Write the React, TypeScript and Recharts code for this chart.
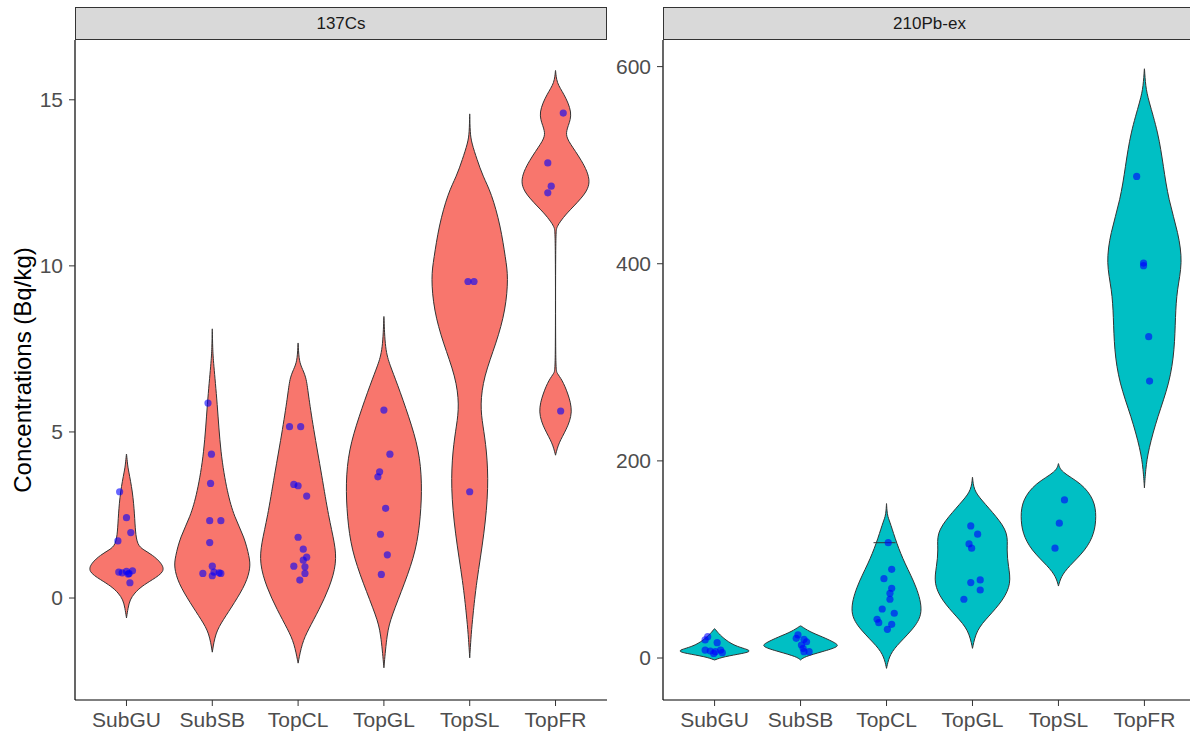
import React from 'react';
import { ScatterChart, Scatter, XAxis, YAxis } from 'recharts';

const sites = ['SubGU', 'SubSB', 'TopCL', 'TopGL', 'TopSL', 'TopFR'];

// violin outlines: [concentration, relative density]
const csProfiles = [
  [[-0.6, 0], [-0.3, 0.04], [-0.05, 0.09], [0.15, 0.21], [0.35, 0.39], [0.55, 0.67], [0.8, 1.0], [1.05, 0.91], [1.3, 0.67], [1.45, 0.44], [1.6, 0.28], [2.0, 0.23], [2.5, 0.21], [3.2, 0.16], [3.85, 0.05], [4.0, 0.03], [4.35, 0]],
  [[-1.63, 0], [-1.05, 0.08], [-0.66, 0.28], [-0.15, 0.57], [0.45, 0.88], [0.93, 0.99], [1.23, 0.96], [1.84, 0.83], [2.44, 0.57], [3.16, 0.39], [4.37, 0.21], [5.87, 0.13], [7.1, 0.03], [7.5, 0.01], [8.13, 0]],
  [[-1.96, 0], [-1.36, 0.1], [-0.96, 0.26], [-0.36, 0.54], [0.33, 0.82], [1.05, 1.0], [1.65, 0.95], [2.44, 0.79], [3.65, 0.62], [5.15, 0.39], [6.17, 0.26], [6.66, 0.21], [6.96, 0.08], [7.2, 0.02], [7.7, 0]],
  [[-2.1, 0], [-1.05, 0.08], [-0.57, 0.19], [0.45, 0.54], [1.45, 0.84], [2.44, 0.95], [3.46, 0.99], [4.46, 0.91], [5.45, 0.65], [6.47, 0.34], [7.0, 0.16], [7.47, 0.03], [8.52, 0]],
  [[-1.8, 0], [-1.05, 0.04], [-0.57, 0.08], [0.45, 0.17], [1.95, 0.38], [3.34, 0.49], [4.46, 0.44], [5.2, 0.34], [5.8, 0.27], [6.66, 0.36], [7.68, 0.69], [8.67, 0.93], [9.67, 1.0], [10.2, 0.93], [11.2, 0.8], [12.2, 0.56], [12.7, 0.34], [13.2, 0.19], [13.7, 0.05], [14.0, 0.01], [14.6, 0]],
  [[4.3, 0], [4.67, 0.08], [5.06, 0.28], [5.6, 0.46], [6.17, 0.32], [6.57, 0.17], [6.78, 0.03], [6.9, 0], [11.0, 0], [11.15, 0.03], [11.3, 0.1], [11.6, 0.3], [12.0, 0.65], [12.5, 0.97], [13.2, 0.67], [13.7, 0.36], [13.95, 0.26], [14.2, 0.32], [14.6, 0.45], [15.2, 0.21], [15.5, 0.03], [15.9, 0]],
];

const pbProfiles = [
  [[-2, 0], [1.3, 0.23], [4.7, 0.75], [7.4, 1.0], [11.5, 0.56], [18.3, 0.28], [25, 0.1], [30, 0]],
  [[-2, 0], [1.3, 0.1], [6.4, 0.56], [11.5, 1.0], [14.9, 0.93], [21.6, 0.56], [26.7, 0.23], [32.8, 0]],
  [[-10.5, 0], [1.3, 0.065], [11.5, 0.23], [28.4, 0.67], [45.4, 0.97], [72.4, 0.78], [96, 0.47], [116.4, 0.26], [136.8, 0.1], [143.5, 0.03], [150, 0.01], [157, 0]],
  [[9.8, 0], [28.4, 0.1], [41.9, 0.41], [58.9, 0.8], [75.8, 1.0], [92.7, 0.93], [109.6, 0.88], [126.6, 0.93], [143.5, 0.62], [160.4, 0.23], [170.6, 0.03], [184, 0]],
  [[73, 0], [82.5, 0.065], [92.7, 0.26], [109.6, 0.71], [126.6, 0.93], [143.5, 0.98], [160.4, 0.93], [177.4, 0.6], [189, 0.05], [197.6, 0]],
  [[172.6, 0], [191, 0.03], [211, 0.1], [245, 0.34], [278.9, 0.65], [312.7, 0.78], [346.5, 0.8], [373.6, 0.84], [400.7, 0.99], [431, 0.88], [465, 0.62], [498.8, 0.49], [532.7, 0.36], [566.5, 0.1], [580, 0.03], [598.6, 0]],
];

// measured samples (Bq/kg) and their horizontal jitter
const csValues = [
  [3.2, 2.42, 1.97, 1.72, 0.78, 0.76, 0.8, 0.74, 0.82, 0.72, 0.46],
  [5.87, 4.33, 3.45, 2.33, 2.33, 1.67, 0.74, 0.96, 0.67, 0.78, 0.76, 0.74],
  [5.16, 5.16, 3.42, 3.38, 3.07, 1.83, 1.47, 1.23, 1.14, 0.96, 0.94, 0.74, 0.54],
  [5.66, 4.33, 3.8, 3.65, 2.7, 1.92, 1.3, 0.71],
  [9.53, 9.53, 3.2],
  [14.6, 13.1, 12.4, 12.2, 5.63],
];
const csJitter = [
  [-0.08, 0.0, 0.05, -0.1, -0.09, -0.05, 0.0, 0.03, 0.07, 0.02, 0.04],
  [-0.05, -0.01, -0.02, -0.03, 0.1, -0.03, -0.11, 0.0, 0.0, 0.02, 0.08, 0.1],
  [-0.1, 0.03, -0.05, 0.0, 0.1, 0.0, 0.06, 0.1, 0.06, -0.05, 0.08, 0.08, 0.02],
  [0.0, 0.07, -0.05, -0.07, 0.02, -0.04, 0.04, -0.03],
  [-0.02, 0.05, 0.0],
  [0.09, -0.09, -0.05, -0.09, 0.06],
];

const pbValues = [
  [21.6, 18.3, 15.6, 8.1, 7.1, 6.4, 8.1, 5.4, 4.7],
  [23.4, 19, 20, 16.5, 13.2, 9.8, 6.4, 6.4],
  [117, 90, 80.5, 70.8, 65.7, 59.6, 49.7, 45.4, 39.3, 35.8, 34.2, 29.1],
  [134, 125.6, 115.7, 111.4, 76.5, 79.2, 69, 59.6],
  [160.4, 136.8, 111.4],
  [488.6, 400.7, 398, 326, 281],
];
const pbJitter = [
  [-0.08, -0.11, 0.03, -0.11, -0.05, 0.01, 0.07, 0.09, -0.01],
  [-0.03, 0.04, -0.05, 0.07, 0.01, 0.03, 0.04, 0.1],
  [0.02, 0.06, -0.03, 0.06, 0.04, 0.04, -0.05, 0.09, -0.11, -0.09, 0.06, 0.01],
  [-0.02, 0.06, -0.04, -0.01, -0.02, 0.09, 0.09, -0.1],
  [0.07, 0.01, -0.04],
  [-0.09, -0.01, -0.01, 0.05, 0.06],
];

// small crossbar seen on TopCL in the 210Pb-ex panel
const pbMarks = [{ site: 3, value: 117 }];

const HALF_WIDTH = 0.45;

const outline = (profile: number[][], cat: number) => {
  const right = profile.map(([v, d]) => ({ x: cat + d * HALF_WIDTH, y: v }));
  const left = [...profile].reverse().map(([v, d]) => ({ x: cat - d * HALF_WIDTH, y: v }));
  return [...right, ...left, right[0]];
};

const jittered = (values: number[][], jitter: number[][]) =>
  values.flatMap((vals, i) => vals.map((v, j) => ({ x: i + 1 + jitter[i][j], y: v })));

const Dot = (p: any) => <circle cx={p.cx} cy={p.cy} r={3.6} fill="#0000FF" fillOpacity={0.6} />;
const Bar = (p: any) => <line x1={p.cx - 13} x2={p.cx + 9} y1={p.cy} y2={p.cy} stroke="#333" strokeWidth={1} />;
const Nothing = () => <g />;

type PanelProps = {
  left: number;
  width: number;
  yWidth: number;
  title: string;
  fill: string;
  profiles: number[][][];
  values: number[][];
  jitter: number[][];
  domain: [number, number];
  ticks: number[];
  yTitle?: string;
  marks?: { site: number; value: number }[];
};

const Panel: React.FC<PanelProps> = ({ left, width, yWidth, title, fill, profiles, values, jitter, domain, ticks, yTitle, marks }) => {
  const plotW = width - yWidth;
  return (
    <div style={{ position: 'absolute', left, top: 0, width, height: 734 }}>
      <div
        style={{
          position: 'absolute', left: yWidth, top: 7, width: plotW, height: 33, boxSizing: 'border-box',
          background: '#D9D9D9', border: '1px solid #333', color: '#1A1A1A', fontSize: 17,
          display: 'flex', alignItems: 'center', justifyContent: 'center',
        }}
      >
        {title}
      </div>
      <ScatterChart width={width} height={734} margin={{ top: 40, right: 0, bottom: 0, left: 0 }}>
        <XAxis
          type="number"
          dataKey="x"
          domain={[0.4, 6.6]}
          allowDataOverflow
          ticks={[1, 2, 3, 4, 5, 6]}
          interval={0}
          tickFormatter={(v: number) => sites[v - 1]}
          height={34}
          tickSize={6}
          tickMargin={6}
          axisLine={{ stroke: '#000', strokeWidth: 1.2 }}
          tickLine={{ stroke: '#333' }}
          tick={{ fill: '#4D4D4D', fontSize: 21 }}
        />
        <YAxis
          type="number"
          dataKey="y"
          domain={domain}
          allowDataOverflow
          ticks={ticks}
          width={yWidth}
          tickSize={6}
          tickMargin={6}
          axisLine={{ stroke: '#000', strokeWidth: 1.2 }}
          tickLine={{ stroke: '#333' }}
          tick={{ fill: '#4D4D4D', fontSize: 21 }}
          label={yTitle ? { value: yTitle, angle: -90, position: 'insideLeft', offset: 22, fill: '#000', fontSize: 24, style: { textAnchor: 'middle' } } : undefined}
        />
        {profiles.map((p, i) => (
          <Scatter
            key={'v' + i}
            data={outline(p, i + 1)}
            line={{ fill, stroke: '#333', strokeWidth: 1 }}
            lineJointType="basis"
            shape={Nothing}
            isAnimationActive={false}
          />
        ))}
        {marks && (
          <Scatter data={marks.map((m) => ({ x: m.site, y: m.value }))} shape={Bar} isAnimationActive={false} />
        )}
        <Scatter data={jittered(values, jitter)} shape={Dot} isAnimationActive={false} />
      </ScatterChart>
    </div>
  );
};

export default function App() {
  return (
    <div
      style={{
        position: 'absolute', left: 0, top: 0, width: 1190, height: 734, overflow: 'hidden',
        background: '#fff', fontFamily: 'Arial, "Liberation Sans", sans-serif',
      }}
    >
      <Panel
        left={0}
        width={607}
        yWidth={75}
        title="137Cs"
        fill="#F8766D"
        profiles={csProfiles}
        values={csValues}
        jitter={csJitter}
        domain={[-3.07, 16.8]}
        ticks={[0, 5, 10, 15]}
        yTitle="Concentrations (Bq/kg)"
      />
      <Panel
        left={610}
        width={586}
        yWidth={53}
        title="210Pb-ex"
        fill="#00BFC4"
        profiles={pbProfiles}
        values={pbValues}
        jitter={pbJitter}
        domain={[-42.6, 627]}
        ticks={[0, 200, 400, 600]}
        marks={pbMarks}
      />
    </div>
  );
}
